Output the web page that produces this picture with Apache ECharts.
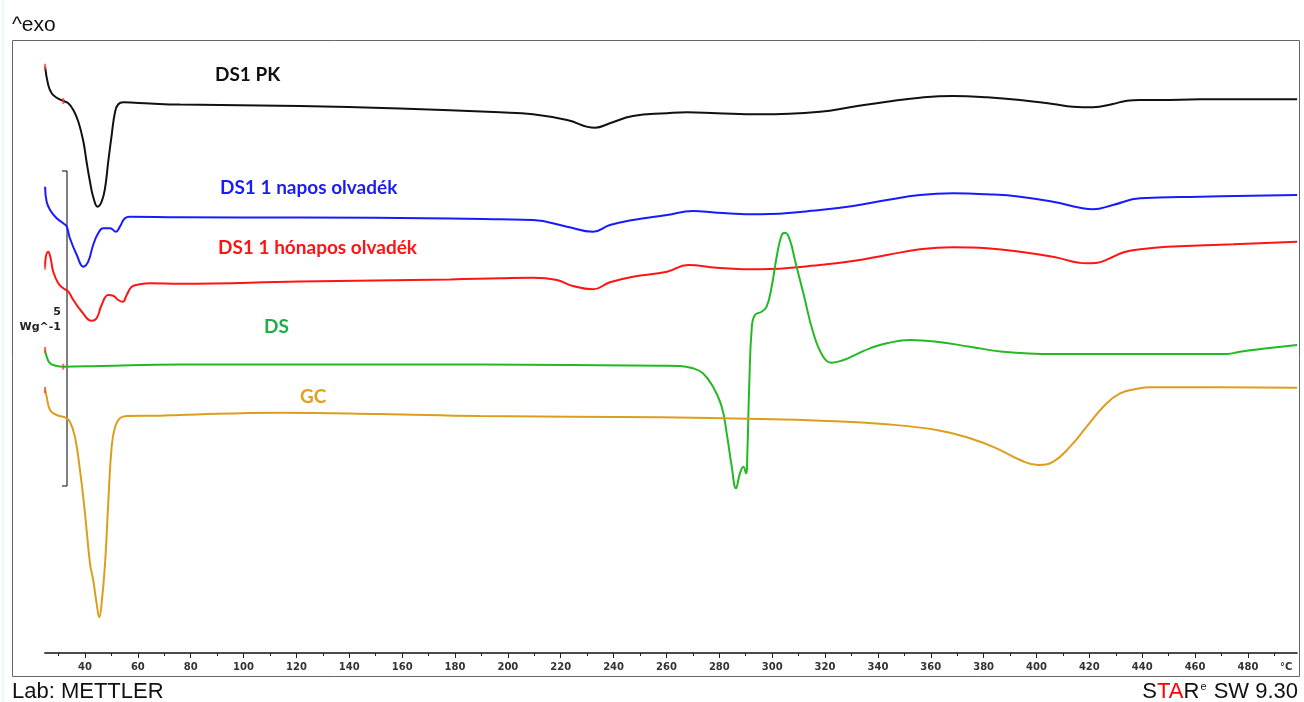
<!DOCTYPE html>
<html>
<head>
<meta charset="utf-8">
<script src="https://cdn.jsdelivr.net/npm/echarts@6/dist/echarts.min.js"></script>
<style>
  html, body { margin: 0; padding: 0; background: #ffffff; }
  #chart { width: 1304px; height: 702px; }
</style>
</head>
<body>
<div id="chart"></div>
<script>
// DSC heating curves, temperature in °C, heat flow in Wg^-1 (curves stacked with offsets)
const ds1PK = [
  [24.9, 9.306], [26.1, 9.016], [27.4, 8.884], [29.3, 8.814], [31.8, 8.762], [33.7, 8.725],
  [35.6, 8.619], [37.5, 8.433], [39.4, 8.116], [40.6, 7.798], [41.9, 7.481], [43.1, 7.243],
  [44.8, 7.084], [46.3, 7.163], [47.6, 7.381], [48.8, 7.798], [50.1, 8.222], [51.4, 8.592],
  [52.6, 8.710], [54.5, 8.741], [64.6, 8.722], [75.9, 8.706], [121.3, 8.683], [159.2, 8.643],
  [197.0, 8.583], [209.5, 8.551], [222.4, 8.460], [233.0, 8.338], [238.6, 8.408], [247.3, 8.524],
  [260.2, 8.567], [267.8, 8.583], [279.1, 8.567], [295.4, 8.551], [318.1, 8.592], [330.6, 8.671],
  [343.4, 8.751], [355.9, 8.814], [368.4, 8.841], [381.3, 8.821], [393.8, 8.778], [406.2, 8.714],
  [413.8, 8.671], [421.4, 8.662], [428.9, 8.714], [434.2, 8.767], [439.2, 8.778], [446.7, 8.778],
  [461.9, 8.789], [498.6, 8.789]
];
const ds1Day = [
  [24.9, 7.402], [25.5, 7.163], [26.8, 7.032], [29.3, 6.900], [31.8, 6.821], [33.1, 6.767],
  [34.3, 6.583], [36.9, 6.317], [39.4, 6.132], [41.2, 6.211], [43.1, 6.476], [45.0, 6.662],
  [46.9, 6.741], [49.5, 6.741], [51.7, 6.687], [53.2, 6.767], [55.1, 6.900], [57.0, 6.925],
  [75.9, 6.916], [121.3, 6.913], [178.1, 6.897], [197.0, 6.884], [209.5, 6.873], [222.4, 6.767],
  [232.2, 6.687], [238.6, 6.794], [247.3, 6.873], [260.2, 6.952], [270.0, 7.016], [279.1, 6.989],
  [295.4, 6.963], [318.1, 7.032], [330.6, 7.095], [343.4, 7.190], [355.9, 7.270], [368.4, 7.297],
  [381.3, 7.281], [393.8, 7.243], [406.2, 7.163], [416.5, 7.068], [421.4, 7.043], [428.9, 7.111],
  [439.2, 7.217], [461.9, 7.243], [498.6, 7.270]
];
const ds1Month = [
  [24.9, 6.132], [25.1, 6.265], [26.1, 6.370], [27.0, 6.265], [28.0, 6.052], [29.9, 5.868],
  [31.8, 5.789], [33.7, 5.735], [35.6, 5.603], [38.8, 5.417], [42.5, 5.275], [44.4, 5.313],
  [46.3, 5.524], [48.8, 5.683], [50.7, 5.671], [52.6, 5.603], [54.3, 5.576], [55.8, 5.683],
  [57.7, 5.814], [60.8, 5.852], [64.6, 5.868], [75.9, 5.862], [121.3, 5.897], [178.1, 5.929],
  [197.0, 5.948], [209.5, 5.957], [218.6, 5.921], [224.6, 5.825], [232.2, 5.773], [238.6, 5.884],
  [247.3, 5.973], [260.2, 6.052], [268.2, 6.159], [279.1, 6.116], [295.4, 6.090], [318.1, 6.159],
  [330.6, 6.222], [343.4, 6.317], [355.9, 6.408], [368.4, 6.440], [381.3, 6.424], [393.8, 6.370],
  [406.2, 6.290], [419.1, 6.186], [423.0, 6.195], [427.5, 6.260], [433.0, 6.360], [439.2, 6.408],
  [449.4, 6.449], [474.4, 6.487], [498.6, 6.529]
];
const dsCurve = [
  [24.9, 4.810], [25.5, 4.703], [26.8, 4.598], [29.3, 4.556], [31.8, 4.544], [45.7, 4.556],
  [75.9, 4.579], [189.5, 4.579], [257.6, 4.560], [265.1, 4.556], [270.0, 4.519], [273.8, 4.440],
  [277.6, 4.227], [280.9, 3.910], [282.8, 3.487], [284.7, 2.957], [286.3, 2.614], [287.8, 2.852],
  [289.1, 2.957], [290.1, 2.852], [290.6, 3.170], [291.3, 4.227], [292.3, 5.179], [293.5, 5.365],
  [296.0, 5.417], [297.9, 5.497], [299.8, 5.814], [301.7, 6.290], [303.6, 6.635], [304.9, 6.671],
  [306.7, 6.556], [308.6, 6.238], [311.8, 5.710], [315.6, 5.075], [319.3, 4.703], [322.5, 4.608],
  [327.0, 4.650], [332.0, 4.745], [337.0, 4.836], [343.3, 4.916], [352.2, 4.968], [362.2, 4.941],
  [374.8, 4.862], [387.3, 4.783], [406.2, 4.746], [439.2, 4.746], [472.1, 4.746], [477.0, 4.783],
  [487.2, 4.837], [498.6, 4.889]
];
const gcCurve = [
  [24.9, 4.175], [25.5, 4.068], [26.8, 3.857], [29.3, 3.778], [32.4, 3.741], [34.3, 3.671],
  [36.2, 3.433], [38.1, 2.905], [40.0, 2.217], [41.9, 1.424], [43.1, 1.159], [44.4, 0.789],
  [45.4, 0.567], [46.3, 0.789], [47.6, 1.424], [48.8, 2.376], [50.1, 3.275], [51.4, 3.592],
  [53.2, 3.725], [55.8, 3.762], [68.4, 3.767], [75.9, 3.778], [113.8, 3.814], [151.6, 3.794],
  [189.5, 3.762], [257.6, 3.741], [295.4, 3.714], [318.1, 3.687], [343.3, 3.630], [362.2, 3.540],
  [374.8, 3.408], [384.9, 3.249], [393.8, 3.063], [400.7, 2.984], [406.4, 3.037], [412.7, 3.275],
  [419.0, 3.592], [425.3, 3.910], [431.6, 4.122], [439.2, 4.202], [443.0, 4.217], [461.9, 4.217],
  [498.6, 4.211]
];
// evaluation limit marks at the start of the runs
const limitMarks = [
  [24.9, 9.306], [31.8, 8.762], [24.9, 4.810], [31.8, 4.544], [24.9, 4.175], [24.9, 6.132]
];
// 5 Wg^-1 scale bracket
const scaleBar = [[31.3, 7.651], [33.2, 7.651], [33.2, 2.651], [31.3, 2.651]];
const majorTicks = [40, 60, 80, 100, 120, 140, 160, 180, 200, 220, 240, 260, 280, 300, 320, 340, 360, 380, 400, 420, 440, 460, 480];
const minorTicks = [30, 50, 70, 90, 110, 130, 150, 170, 190, 210, 230, 250, 270, 290, 310, 330, 350, 370, 390, 410, 430, 450, 470, 490];

const seriesNames = ['DS1 PK', 'DS1 1 napos olvadék', 'DS1 1 hónapos olvadék', 'DS', 'GC'];
const seriesColors = ['#111111', '#1a1aff', '#ff1414', '#22b922', '#dc9e1f'];
const labelColors = ['#111111', '#1a1aff', '#ff1414', '#1fae44', '#e0a020'];
const curves = [ds1PK, ds1Day, ds1Month, dsCurve, gcCurve];

const chart = echarts.init(document.getElementById('chart'));

const lineSeries = curves.map((d, i) => ({
  name: seriesNames[i],
  type: 'line',
  data: d,
  showSymbol: false,
  smooth: 0.45,
  clip: false,
  lineStyle: { color: seriesColors[i], width: 2 },
  silent: true,
  z: 3
}));

const curveLabels = [
  { text: seriesNames[0], x: 215, y: 75 },
  { text: seriesNames[1], x: 220, y: 188 },
  { text: seriesNames[2], x: 218, y: 248 },
  { text: seriesNames[3], x: 264, y: 327 },
  { text: seriesNames[4], x: 300, y: 397 }
].map((l, i) => ({
  type: 'text', x: l.x, y: l.y,
  style: { text: l.text, fill: labelColors[i], verticalAlign: 'middle', font: 'bold 19px Lato, "Liberation Sans", sans-serif' }
}));

const footFont = '22px "Liberation Sans", Arial, sans-serif';

chart.setOption({
  animation: false,
  backgroundColor: '#ffffff',
  grid: { left: 44.8, right: 6.9, top: 23, bottom: 49 },
  xAxis: [{
    type: 'value', min: 24.8, max: 498.6,
    axisLine: { show: true, lineStyle: { color: '#111', width: 1.5 } },
    axisTick: { show: true, customValues: majorTicks, length: 5, inside: false, lineStyle: { color: '#222' } },
    axisLabel: { customValues: majorTicks, color: '#333', fontFamily: 'DejaVu Sans', fontWeight: 'bold', fontSize: 10, margin: 9 },
    splitLine: { show: false }
  }, {
    type: 'value', min: 24.8, max: 498.6, position: 'bottom',
    axisLine: { show: false },
    axisTick: { show: true, customValues: minorTicks, length: 3, lineStyle: { color: '#222' } },
    axisLabel: { show: false },
    splitLine: { show: false }
  }],
  yAxis: { type: 'value', min: 0, max: 10, show: false },
  series: lineSeries.concat([
    {
      name: 'scale', type: 'line', data: scaleBar, showSymbol: false, silent: true,
      lineStyle: { color: '#000', width: 1 }, z: 2
    },
    {
      name: 'limits', type: 'scatter', data: limitMarks, symbol: 'rect', symbolSize: [2, 6],
      itemStyle: { color: '#ff4040' }, silent: true, z: 4
    }
  ]),
  graphic: [
    { type: 'line', shape: { x1: 3, y1: 0, x2: 3, y2: 702 }, style: { stroke: '#dfe9f5', lineWidth: 1 } },
    { type: 'rect', shape: { x: 12.5, y: 40.5, width: 1287, height: 636 }, style: { fill: 'none', stroke: '#666', lineWidth: 1 }, z: 1 },
    { type: 'text', x: 12, y: 25, style: { text: '^exo', fill: '#111', verticalAlign: 'middle', font: '21px "Liberation Sans", Arial, sans-serif' } },
    { type: 'text', x: 1280, y: 667, style: { text: '°C', fill: '#333', verticalAlign: 'middle', font: 'bold 10px "DejaVu Sans"' } },
    { type: 'text', x: 61, y: 312, style: { text: '5', fill: '#222', align: 'right', verticalAlign: 'middle', font: 'bold 11px "DejaVu Sans"' } },
    { type: 'text', x: 61, y: 327, style: { text: 'Wg^-1', fill: '#222', align: 'right', verticalAlign: 'middle', font: 'bold 11px "DejaVu Sans"' } },
    { type: 'text', x: 12, y: 692, style: { text: 'Lab: METTLER', fill: '#111', verticalAlign: 'middle', font: footFont } },
    {
      type: 'text', x: 1298, y: 692,
      style: {
        text: '{k|S}{r|TA}{k|R}{s|e}{k| SW 9.30}',
        align: 'right', verticalAlign: 'middle',
        rich: {
          k: { fill: '#111', font: footFont },
          r: { fill: '#ff0000', font: footFont },
          s: { fill: '#111', font: '11px "Liberation Sans", Arial, sans-serif', verticalAlign: 'top', padding: [0, 1, 8, 1] }
        }
      }
    }
  ].concat(curveLabels)
});
</script>
</body>
</html>
